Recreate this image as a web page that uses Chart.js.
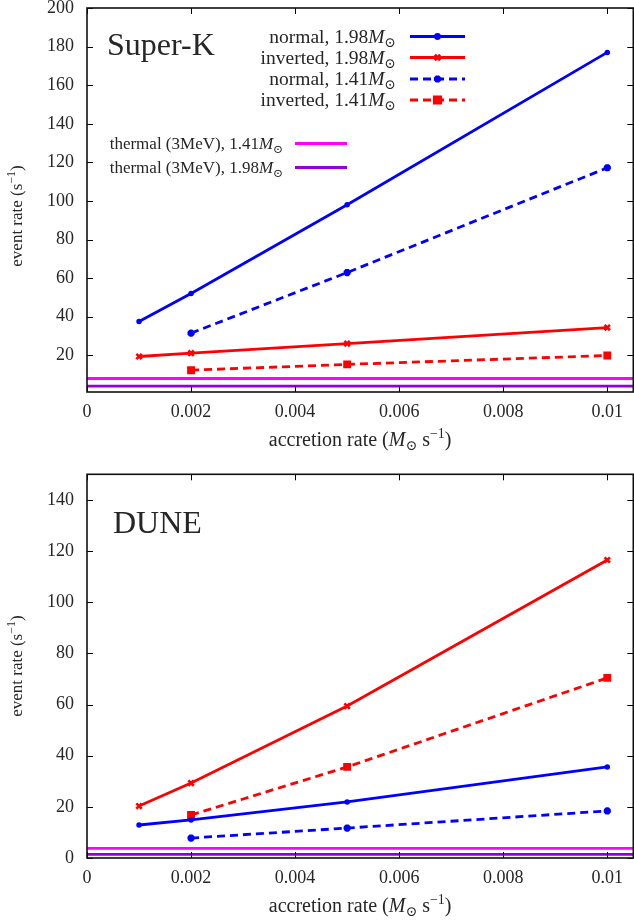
<!DOCTYPE html>
<html><head><meta charset="utf-8">
<script src="https://cdn.jsdelivr.net/npm/chart.js@4.4.1/dist/chart.umd.min.js"></script>
<style>
html,body{margin:0;padding:0;background:#fff;width:634px;height:924px;overflow:hidden}
canvas{position:absolute;left:0;display:block}
#c1{top:0}
#c2{top:460px}
</style></head><body>
<canvas id="c1" width="634" height="460"></canvas>
<canvas id="c2" width="634" height="464"></canvas>
<script>
// ---------- data ----------
const accretion = [0.001, 0.002, 0.005, 0.01];
const accretion141 = [0.002, 0.005, 0.01];
const xRange = [0, 0.0105];

const skNormal198   = [37.5, 52, 98, 177];
const skInverted198 = [19.4, 21.1, 26.1, 34.4];
const skNormal141   = [31.5, 62.9, 117.2];
const skInverted141 = [12.3, 15.3, 19.9];
const skThermal141  = 8.0;
const skThermal198  = 4.0;

const duneNormal198   = [12.9, 14.9, 21.9, 35.6];
const duneInverted198 = [20.3, 29.3, 59.4, 116.5];
const duneNormal141   = [7.8, 11.7, 18.4];
const duneInverted141 = [16.8, 35.6, 70.4];
const duneThermal141  = 3.8;
const duneThermal198  = 1.45;

const xTicks = [0, 0.002, 0.004, 0.006, 0.008, 0.01];
const xTickLabels = ['0', '0.002', '0.004', '0.006', '0.008', '0.01'];
const yTicksSK = [20, 40, 60, 80, 100, 120, 140, 160, 180, 200];
const yTicksDUNE = [0, 20, 40, 60, 80, 100, 120, 140];
const ySK = [1, 200];
const yDUNE = [0, 150];

const seriesNames = ['normal, 1.98', 'inverted, 1.98', 'normal, 1.41', 'inverted, 1.41'];
const thermalNames = ['thermal (3MeV), 1.41', 'thermal (3MeV), 1.98'];

// ---------- styles ----------
const FONT = '"Liberation Serif", "DejaVu Serif", serif';
const TXT = '#262626';
const BLUE = '#0000ff', RED = '#ff0000', MAG = '#ff00ff', PURP = '#9400d3';
const styles = [
  {color: BLUE, dash: [], pointStyle: 'circle', r: 2, bw: 1.5},
  {color: RED,  dash: [], pointStyle: 'crossRot', r: 3.8, bw: 2.6},
  {color: BLUE, dash: [8, 5], pointStyle: 'star', r: 3.6, bw: 2.6},
  {color: RED,  dash: [8, 5], pointStyle: 'rect', r: 4.5, bw: 1.5}
];

function pts(xs, ys) { return xs.map((x, i) => ({x: x, y: ys[i]})); }
function series(xs, ys, st) {
  return {
    data: pts(xs, ys), borderColor: st.color, backgroundColor: st.color,
    borderWidth: 2.8, borderDash: st.dash, pointStyle: st.pointStyle,
    pointRadius: st.r, pointBorderWidth: st.bw, pointBorderColor: st.color,
    pointBackgroundColor: st.color, tension: 0, fill: false
  };
}
function hline(v, color) {
  return {data: [{x: xRange[0], y: v}, {x: xRange[1], y: v}], borderColor: color,
    borderWidth: 2.8, pointRadius: 0, fill: false, tension: 0};
}

// ---------- rich text ----------
function fontStr(size, it) { return (it ? 'italic ' : '') + size + 'px ' + FONT; }
function segSize(sg, size) { return (sg.sub || sg.sup) ? size * 0.7 : size; }
function drawRich(ctx, segs, x, y, size, align) {
  let w = 0;
  for (const sg of segs) { ctx.font = fontStr(segSize(sg, size), sg.it); w += ctx.measureText(sg.t).width; }
  let cx = align === 'right' ? x - w : (align === 'center' ? x - w / 2 : x);
  ctx.textBaseline = 'alphabetic'; ctx.textAlign = 'left'; ctx.fillStyle = TXT;
  for (const sg of segs) {
    ctx.font = fontStr(segSize(sg, size), sg.it);
    const dy = sg.sub ? size * 0.22 : (sg.sup ? -size * 0.4 : 0);
    ctx.fillText(sg.t, cx, y + dy);
    cx += ctx.measureText(sg.t).width;
  }
}
const massSegs = name => [{t: name}, {t: 'M', it: true}, {t: '\u2299', sub: true}];

function drawMarker(ctx, st, x, y) {
  Chart.helpers.drawPoint(ctx, {pointStyle: st.pointStyle, radius: st.r, rotation: 0, borderWidth: st.bw}, x, y);
}

// ---------- plugin: frame, ticks, titles, legend ----------
const framePlugin = {
  id: 'frame',
  afterDraw(chart, args, opts) {
    const ctx = chart.ctx, a = chart.chartArea;
    const xs = chart.scales.x, ys = chart.scales.y;
    ctx.save();
    ctx.strokeStyle = '#000'; ctx.lineWidth = 1;
    ctx.beginPath();
    for (const v of xTicks) {
      const px = Math.round(xs.getPixelForValue(v)) + 0.5;
      ctx.moveTo(px, a.bottom); ctx.lineTo(px, a.bottom - 6);
      ctx.moveTo(px, a.top); ctx.lineTo(px, a.top + 6);
    }
    for (const v of opts.yTicks) {
      const py = Math.round(ys.getPixelForValue(v)) + 0.5;
      ctx.moveTo(a.left, py); ctx.lineTo(a.left + 6, py);
      ctx.moveTo(a.right, py); ctx.lineTo(a.right - 6, py);
    }
    ctx.stroke();
    ctx.lineWidth = 1.6; ctx.strokeStyle = '#111';
    ctx.strokeRect(a.left, a.top, a.right - a.left, a.bottom - a.top);
    // axis titles
    const xmid = (a.left + a.right) / 2;
    drawRich(ctx, [{t: 'accretion rate ('}, {t: 'M', it: true}, {t: '\u2299', sub: true}, {t: ' s'}, {t: '\u22121', sup: true}, {t: ')'}],
      xmid, a.bottom + 54, 20, 'center');
    ctx.save();
    ctx.translate(22, (a.top + a.bottom) / 2 + opts.yTitleShift);
    ctx.rotate(-Math.PI / 2);
    drawRich(ctx, [{t: 'event rate (s'}, {t: '\u22121', sup: true}, {t: ')'}], 0, 0, 17, 'center');
    ctx.restore();
    // panel title
    ctx.fillStyle = TXT; ctx.font = fontStr(32, false); ctx.textAlign = 'left'; ctx.textBaseline = 'alphabetic';
    ctx.fillText(opts.title, opts.titleX, opts.titleY);
    // legend
    if (opts.legend) {
      const baseY = [42.5, 63.5, 85, 106];
      for (let i = 0; i < 4; i++) {
        drawRich(ctx, massSegs(seriesNames[i]), 396, baseY[i], 19.5, 'right');
        const st = styles[i], ly = baseY[i] - 6;
        ctx.save();
        ctx.strokeStyle = st.color; ctx.lineWidth = 2.8; ctx.setLineDash(st.dash);
        ctx.beginPath(); ctx.moveTo(410, ly); ctx.lineTo(465, ly); ctx.stroke();
        ctx.setLineDash([]);
        ctx.fillStyle = st.color; ctx.strokeStyle = st.color;
        drawMarker(ctx, st, 437.5, ly);
        ctx.restore();
      }
      const tY = [149, 173], tC = [MAG, PURP];
      for (let i = 0; i < 2; i++) {
        drawRich(ctx, massSegs(thermalNames[i]), 283, tY[i], 17, 'right');
        ctx.strokeStyle = tC[i]; ctx.lineWidth = 2.8;
        ctx.beginPath(); ctx.moveTo(295, tY[i] - 5.5); ctx.lineTo(347, tY[i] - 5.5); ctx.stroke();
      }
    }
    ctx.restore();
  }
};

function zeroPad(s) { s.paddingTop = 0; s.paddingBottom = 0; s.paddingLeft = 0; s.paddingRight = 0; }

function makeChart(id, cfg) {
  return new Chart(document.getElementById(id), {
    type: 'line',
    data: {datasets: cfg.datasets},
    options: {
      responsive: false, animation: false, devicePixelRatio: 1,
      layout: {autoPadding: false, padding: {top: cfg.padTop, right: 0.7, left: 0, bottom: 0}},
      plugins: {legend: {display: false}, tooltip: {enabled: false}, frame: cfg.frame},
      scales: {
        x: {
          type: 'linear', min: xRange[0], max: xRange[1],
          grid: {display: false, drawTicks: false}, border: {display: false},
          afterBuildTicks: s => { s.ticks = xTicks.map(v => ({value: v})); },
          afterFit: s => { s.height = cfg.xHeight; zeroPad(s); },
          ticks: {padding: 9, color: TXT, font: {family: FONT, size: 18}, maxRotation: 0, autoSkip: false,
            callback: v => xTickLabels[xTicks.indexOf(v)]}
        },
        y: {
          type: 'linear', min: cfg.yRange[0], max: cfg.yRange[1],
          grid: {display: false, drawTicks: false}, border: {display: false},
          afterBuildTicks: s => { s.ticks = cfg.yTicks.map(v => ({value: v})); },
          afterFit: s => { s.width = 87; zeroPad(s); },
          ticks: {padding: 13, color: TXT, font: {family: FONT, size: 18}, autoSkip: false,
            callback: v => String(v)}
        }
      }
    },
    plugins: [framePlugin]
  });
}

makeChart('c1', {
  padTop: 8, xHeight: 68, yRange: ySK, yTicks: yTicksSK,
  frame: {yTicks: yTicksSK, title: 'Super-K', titleX: 107, titleY: 55, legend: true, yTitleShift: 16},
  datasets: [
    hline(skThermal141, MAG), hline(skThermal198, PURP),
    series(accretion, skNormal198, styles[0]),
    series(accretion, skInverted198, styles[1]),
    series(accretion141, skNormal141, styles[2]),
    series(accretion141, skInverted141, styles[3])
  ]
});
makeChart('c2', {
  padTop: 14.3, xHeight: 66, yRange: yDUNE, yTicks: yTicksDUNE,
  frame: {yTicks: yTicksDUNE, title: 'DUNE', titleX: 113, titleY: 73.3, legend: false, yTitleShift: 0},
  datasets: [
    hline(duneThermal141, MAG), hline(duneThermal198, PURP),
    series(accretion, duneNormal198, styles[0]),
    series(accretion, duneInverted198, styles[1]),
    series(accretion141, duneNormal141, styles[2]),
    series(accretion141, duneInverted141, styles[3])
  ]
});
</script>
</body></html>
